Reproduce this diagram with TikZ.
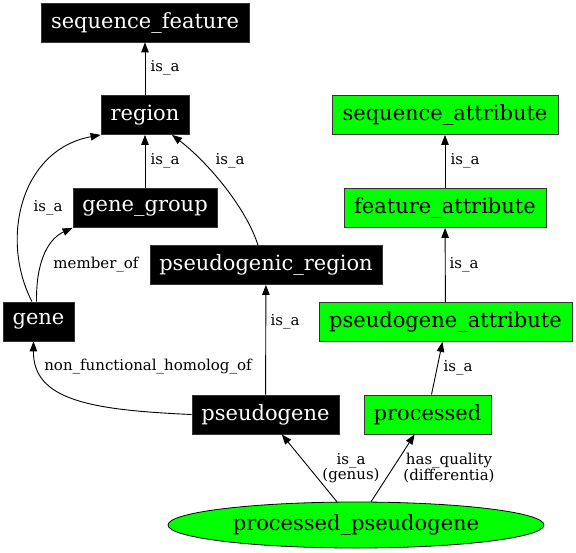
\documentclass[tikz,border=0pt]{standalone}
\usepackage{fontspec}
\setmainfont{DejaVu Serif}
\usetikzlibrary{arrows.meta,shapes.geometric}
\begin{document}
\begin{tikzpicture}[x=1pt,y=-1pt,
  nfont/.style={font=\fontsize{21}{24}\selectfont},
  blk/.style={rectangle,draw=black!80,fill=black,text=white,nfont,minimum height=39pt,inner sep=0pt,line width=0.8pt},
  grn/.style={rectangle,draw=black!80,fill=green,text=black,nfont,minimum height=39pt,inner sep=0pt,line width=0.8pt},
  oval/.style={ellipse,draw=black,fill=green,text=black,nfont,minimum width=376pt,minimum height=46pt,inner sep=0pt,line width=0.8pt},
  edge/.style={draw=black,line width=0.9pt,-{Triangle[length=10pt,width=7.5pt]}},
  lab/.style={font=\fontsize{15}{15.5}\selectfont,align=center,inner sep=0pt}]
\useasboundingbox (0,0) rectangle (576,552);

% nodes
\node[blk,minimum width=208pt] (seqf) at (145,22.5) {sequence\_feature};
\node[blk,minimum width=88pt] (region) at (145,115) {region};
\node[blk,minimum width=144pt] (gg) at (145,208) {gene\_group};
\node[blk,minimum width=232pt] (pr) at (266,265) {pseudogenic\_region};
\node[blk,minimum width=71pt] (gene) at (38.5,321.5) {gene};
\node[blk,minimum width=147pt] (pg) at (265.5,414.5) {pseudogene};
\node[grn,minimum width=127pt] (proc) at (427.5,414.5) {processed};
\node[grn,minimum width=226pt] (sa) at (445,115) {sequence\_attribute};
\node[grn,minimum width=202pt] (fa) at (445,208) {feature\_attribute};
\node[grn,minimum width=253pt] (pa) at (445.5,322) {pseudogene\_attribute};
\node[oval] (pp) at (356,525) {processed\_pseudogene};

% edges
\draw[edge] (region) -- (seqf);
\draw[edge] (gg) -- (region);
\draw[edge] ([xshift=-8pt]pr.north) .. controls (245,205) and (205,160) .. ([xshift=27pt]region.south);
\draw[edge] ([xshift=-6.5pt]gene.north) .. controls (0,240) and (20,150) .. (region.south west);
\draw[edge] ([xshift=-2pt]gene.north) .. controls (36,258) and (50,238) .. (gg.south west);
\draw[edge] (pg.west) .. controls (90,410) and (33,400) .. ([xshift=-5pt]gene.south);
\draw[edge] (pg) -- (pr);
\draw[edge] ([xshift=4pt]proc.north) -- ([xshift=-3pt]pa.south);
\draw[edge] (pa) -- (fa);
\draw[edge] (fa) -- (sa);
\draw[edge] (pp) -- (pg);
\draw[edge] (pp) -- (proc);

% labels
\node[lab] (l1) at (165,68) {is\_a};
\node[lab] (l2) at (165,161) {is\_a};
\node[lab] (l3) at (230,161) {is\_a};
\node[lab] (l4) at (48,208) {is\_a};
\node[lab] (l5) at (96,265) {member\_of};
\node[lab] (l6) at (148,367) {non\_functional\_homolog\_of};
\node[lab] (l7) at (285,322) {is\_a};
\node[lab] (l8) at (458,368) {is\_a};
\node[lab] (l9) at (464,265) {is\_a};
\node[lab] (l10) at (465,161) {is\_a};
\node[lab] (l11) at (351,468) {is\_a\\(genus)};
\node[lab] (l12) at (449,468) {has\_quality\\(differentia)};
\end{tikzpicture}
\end{document}
